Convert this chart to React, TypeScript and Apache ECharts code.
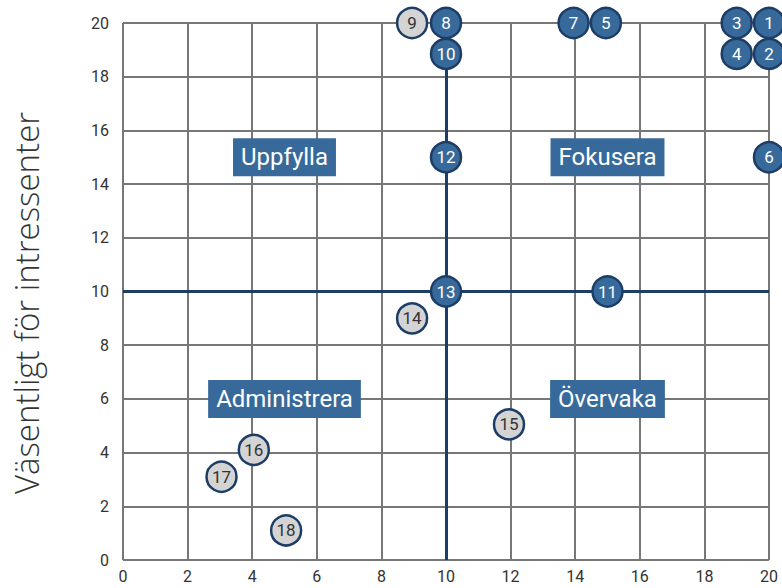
import React, { useEffect, useRef } from "react";
import * as echarts from "echarts";

const ids = ["1", "2", "3", "4", "5", "6", "7", "8", "9", "10", "11", "12", "13", "14", "15", "16", "17", "18"];
const xVals = [20, 20, 19, 19, 14.95, 20, 13.95, 10, 8.95, 10, 15, 10, 10, 8.95, 11.95, 4.05, 3.05, 5.05];
const yVals = [20, 18.85, 20, 18.85, 20, 15, 20, 20, 20, 18.85, 10, 15, 10, 9, 5.05, 4.1, 3.1, 1.1];
const highlighted = [true, true, true, true, true, true, true, true, false, true, true, true, true, false, false, false, false, false];

const quadNames = ["Uppfylla", "Fokusera", "Administrera", "Övervaka"];
const quadX = [5, 15, 5, 15];
const quadY = [15, 15, 6, 6];

const axisTicks = [0, 2, 4, 6, 8, 10, 12, 14, 16, 18, 20];
const yAxisTitle = "Väsentligt för intressenter";

const NAVY = "#1d3d66";
const BLUE = "#376a9a";
const FONT = "Roboto";

export default function App() {
  const ref = useRef<HTMLDivElement>(null);
  useEffect(() => {
    document.body.style.margin = "0";
    const chart = echarts.init(ref.current!, null, { renderer: "svg" });
    const pts = ids.map((id, i) => ({
      value: [xVals[i], yVals[i]],
      name: id,
      itemStyle: { color: highlighted[i] ? BLUE : "#d4d4d4", borderColor: NAVY, borderWidth: 2.5, opacity: 1 },
      label: { color: highlighted[i] ? "#ffffff" : "#333333" },
    }));
    chart.setOption({
      animation: false,
      grid: { left: 123, right: 13, top: 23, bottom: 28, containLabel: false, outerBoundsMode: "none" },
      graphic: [
        {
          type: "text",
          x: 26,
          y: 303,
          rotation: Math.PI / 2,
          style: {
            text: yAxisTitle,
            fontFamily: "Open Sans",
            fontSize: 33,
            fontWeight: 300,
            fill: "#333333",
            textAlign: "center",
            textVerticalAlign: "middle",
          },
        },
      ],
      xAxis: {
        type: "value",
        min: axisTicks[0],
        max: axisTicks[axisTicks.length - 1],
        interval: 2,
        axisLine: { show: false },
        axisTick: { show: false },
        splitLine: { show: true, lineStyle: { color: "#777777", width: 2 } },
        axisLabel: { color: "#333333", fontFamily: FONT, fontSize: 16, margin: 8 },
      },
      yAxis: {
        type: "value",
        min: axisTicks[0],
        max: axisTicks[axisTicks.length - 1],
        interval: 2,
        axisLine: { show: false },
        axisTick: { show: false },
        splitLine: { show: true, lineStyle: { color: "#777777", width: 2 } },
        axisLabel: { color: "#333333", fontFamily: FONT, fontSize: 16, margin: 14 },
      },
      series: [
        {
          type: "line",
          data: [],
          markLine: {
            silent: true,
            symbol: "none",
            label: { show: false },
            lineStyle: { color: NAVY, width: 3, type: "solid", opacity: 1 },
            data: [{ xAxis: 10 }, { yAxis: 10 }],
          },
        },
        {
          type: "scatter",
          symbolSize: 0,
          itemStyle: { opacity: 1 },
          data: quadNames.map((n, i) => ({ value: [quadX[i], quadY[i]], name: n })),
          label: {
            show: true,
            position: "inside",
            formatter: "{b}",
            color: "#ffffff",
            fontFamily: FONT,
            fontSize: 24,
            backgroundColor: BLUE,
            padding: [8, 8, 6, 8],
          },
          z: 3,
        },
        {
          type: "scatter",
          symbolSize: 30,
          data: pts,
          label: {
            show: true,
            position: "inside",
            formatter: "{b}",
            fontFamily: FONT,
            fontSize: 17,
          },
          z: 5,
        },
      ],
    });
    return () => chart.dispose();
  }, []);
  return <div ref={ref} style={{ width: 782, height: 588 }} />;
}
